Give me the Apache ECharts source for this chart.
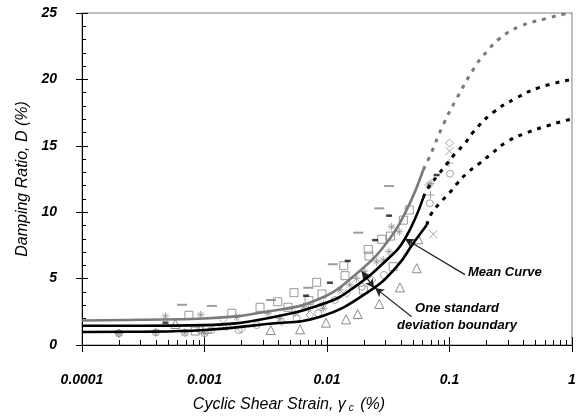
<!DOCTYPE html>
<html>
<head>
<meta charset="utf-8">
<script src="https://cdn.jsdelivr.net/npm/echarts@6/dist/echarts.min.js"></script>
<style>
  html, body { margin: 0; padding: 0; background: #fff; }
  #chart { width: 581px; height: 420px; }
</style>
</head>
<body>
<div id="chart"></div>
<script>
// Cyclic shear strain (%) vs damping ratio (%)

// Mean curve and one-standard-deviation boundaries (solid: fitted range, dotted: extrapolation)
const upperSolidX = [0.0001, 0.0003, 0.001, 0.0032, 0.0088, 0.0186, 0.0307, 0.0448, 0.0611];
const upperSolidD = [1.85, 1.9, 2.0, 2.5, 3.5, 5.6, 7.7, 10.2, 13.2];
const upperDotX = [0.0611, 0.069, 0.089, 0.115, 0.168, 0.202, 0.258, 0.377, 0.625, 0.845, 1];
const upperDotD = [13.2, 14.2, 16.6, 18.6, 21.2, 22.1, 23.1, 24.0, 24.6, 24.9, 25.0];

const meanSolidX = [0.0001, 0.0003, 0.001, 0.0032, 0.01, 0.0164, 0.0307, 0.0433, 0.0611];
const meanSolidD = [1.45, 1.45, 1.5, 2.0, 3.2, 4.3, 6.4, 8.0, 11.1];
const meanDotX = [0.0611, 0.0667, 0.0806, 0.0963, 0.111, 0.134, 0.155, 0.226, 0.352, 0.545, 1];
const meanDotD = [11.1, 11.8, 12.8, 13.7, 14.4, 15.2, 16.0, 17.5, 18.6, 19.4, 20.0];

const lowerSolidX = [0.0001, 0.0003, 0.001, 0.0032, 0.0088, 0.0225, 0.0371, 0.0506, 0.0652];
const lowerSolidD = [0.98, 1.0, 1.13, 1.58, 2.13, 4.1, 5.9, 7.66, 9.04];
const lowerDotX = [0.0652, 0.0712, 0.0836, 0.101, 0.1165, 0.141, 0.177, 0.22, 0.294, 0.431, 0.627, 0.88, 1];
const lowerDotD = [9.04, 9.9, 10.7, 11.5, 12.2, 13.0, 13.7, 14.4, 15.3, 16.0, 16.5, 16.9, 17.0];

// Test results, grouped by symbol: [strain %, damping %]
const squarePts = [[0.000746, 2.24], [0.00084, 1.05], [0.00105, 1.18], [0.00167, 2.39], [0.00284, 2.84],
  [0.00396, 3.26], [0.0048, 2.84], [0.00538, 3.94], [0.00713, 3.34], [0.00824, 4.72], [0.0091, 3.84],
  [0.01403, 5.22], [0.0137, 5.97], [0.0217, 7.2], [0.022, 6.7], [0.028, 7.96], [0.033, 8.2],
  [0.042, 9.4], [0.047, 10.17], [0.0198, 4.14], [0.0347, 5.9]];
const grayDashPts = [[0.000655, 3.03], [0.00115, 2.94], [0.00349, 3.39], [0.00703, 4.31], [0.01114, 6.08],
  [0.018, 8.46], [0.02675, 10.29], [0.0321, 11.97]];
const blackDashPts = [[0.00048, 1.68], [0.00675, 3.71], [0.01057, 4.69], [0.01476, 6.33], [0.0247, 7.9],
  [0.0321, 9.74], [0.0785, 12.8]];
const trianglePts = [[0.000578, 1.58], [0.00347, 1.13], [0.00603, 1.18], [0.00982, 1.68], [0.0143, 1.93],
  [0.0178, 2.33], [0.0267, 3.09], [0.0394, 4.34], [0.054, 5.78], [0.0556, 7.96]];
const asteriskPts = [[0.0002, 0.88], [0.0004, 0.95], [0.00069, 0.93], [0.001, 0.88], [0.00048, 2.18],
  [0.00093, 2.28], [0.00183, 2.08], [0.0033, 2.39], [0.00413, 2.01], [0.00548, 2.39], [0.00641, 2.88],
  [0.00706, 2.76], [0.00933, 2.76], [0.00935, 3.09], [0.01276, 4.14], [0.01537, 4.52], [0.01739, 5.02],
  [0.0203, 5.52], [0.0254, 6.27], [0.0288, 6.4], [0.0321, 7.03], [0.0337, 8.9], [0.0389, 8.53],
  [0.0672, 12.05], [0.0706, 12.17]];
const crossPts = [[0.00142, 1.63], [0.0738, 8.35], [0.1, 14.6]];
const plusPts = [[0.0002, 0.88], [0.0004, 0.95], [0.001, 0.88], [0.07, 11.3], [0.099, 13.7]];
const circlePts = [[0.0002, 0.88], [0.0004, 0.95], [0.00069, 0.93], [0.001, 0.88], [0.00092, 1.13],
  [0.00114, 1.13], [0.0019, 1.13], [0.00267, 1.5], [0.00564, 2.01], [0.00849, 2.39], [0.0116, 3.39],
  [0.0192, 4.39], [0.0292, 5.27], [0.069, 10.67], [0.101, 12.9]];
const diamondPts = [[0.0002, 0.9], [0.00152, 1.38], [0.002, 1.18], [0.00427, 1.75], [0.00726, 2.26],
  [0.00875, 2.88], [0.0145, 3.89], [0.0232, 4.89], [0.1, 15.2]];

// Axis ticks
const xTickLabels = ['0.0001', '0.001', '0.01', '0.1', '1'];
const xMinorTicks = [];
[0.0001, 0.001, 0.01, 0.1].forEach(d => [2, 3, 4, 5, 6, 7, 8, 9].forEach(m => xMinorTicks.push(+(d * m).toPrecision(3))));
const yMin = 0, yMax = 25, yStep = 5;

const zip = (xs, ys) => xs.map((x, i) => [x, ys[i]]);

const FONT = "'Liberation Sans', Arial, sans-serif";
const GRAY = '#7a7a7a';
const MARK = '#808080';
const LIGHT = '#8f8f8f';
const ASTER = 'path://M0,5L10,5M5,0L5,10M1.5,1.5L8.5,8.5M8.5,1.5L1.5,8.5';
const XMARK = 'path://M0,0L10,10M10,0L0,10';
const PLUS = 'path://M5,0L5,10M0,5L10,5';

function curve(data, color, dotted, z) {
  return {
    type: 'line', data: data, showSymbol: false, smooth: 0.45,
    lineStyle: { color: color, width: dotted ? 3 : 2.6, type: dotted ? [4, 6] : 'solid', cap: 'butt' },
    z: z, silent: true
  };
}
function openMarks(data, symbol, size, color, width) {
  return {
    type: 'scatter', data: data, symbol: symbol, symbolSize: size, silent: true, z: 2,
    itemStyle: { color: 'rgba(0,0,0,0)', borderColor: color || MARK, borderWidth: width || 1 }
  };
}
function solidMarks(data, size, color) {
  return { type: 'scatter', data: data, symbol: 'rect', symbolSize: size, silent: true, z: 2,
    itemStyle: { color: color } };
}

const chart = echarts.init(document.getElementById('chart'), null, { renderer: 'canvas' });

const meanSolid = curve(zip(meanSolidX, meanSolidD), '#000', false, 5);
meanSolid.markLine = {
  silent: true, animation: false, symbol: ['none', 'arrow'], symbolSize: [7, 9],
  label: { show: false },
  lineStyle: { color: '#222', width: 1.2, type: 'solid' },
  data: [
    [{ coord: [0.1338, 5.3] }, { coord: [0.0433, 8.0] }],
    [{ coord: [0.0491, 2.13] }, { coord: [0.0247, 4.3] }],
    [{ coord: [0.0243, 4.3], symbol: 'arrow' }, { coord: [0.0192, 5.55] }]
  ]
};

chart.setOption({
  animation: false,
  backgroundColor: '#fff',
  grid: { left: 82, right: 9, top: 13, bottom: 75, show: true, borderColor: '#808080', borderWidth: 1, backgroundColor: '#fff' },
  xAxis: [{
    type: 'log', logBase: 10, min: 0.0001, max: 1, position: 'bottom',
    axisLine: { lineStyle: { color: '#000', width: 1 } },
    axisTick: { show: true, inside: false, length: 7, lineStyle: { color: '#000' } },
    splitLine: { show: false },
    axisLabel: {
      margin: 28, color: '#000', fontSize: 14, fontWeight: 'bold', fontStyle: 'italic', fontFamily: FONT,
      formatter: v => xTickLabels[Math.round(Math.log10(v)) + 4]
    },
    name: 'Cyclic Shear Strain, γ{s|c} (%)', nameLocation: 'middle', nameGap: 52,
    nameTextStyle: {
      color: '#000', fontSize: 16, fontStyle: 'italic', fontFamily: FONT, padding: [0, 76, 0, 0],
      rich: { s: { fontSize: 10, fontStyle: 'italic', fontFamily: FONT, color: '#000', verticalAlign: 'bottom', padding: [0, 2, 0, 3] } }
    }
  }, {
    type: 'log', logBase: 10, min: 0.0001, max: 1, position: 'bottom',
    axisLine: { show: false },
    axisTick: { show: true, inside: true, length: 8, lineStyle: { color: '#000' } },
    axisLabel: { show: false }, splitLine: { show: false }
  }],
  yAxis: [{
    type: 'value', min: yMin, max: yMax, interval: yStep, position: 'left',
    axisLine: { show: true, lineStyle: { color: '#000', width: 1 } },
    axisTick: { show: true, inside: false, length: 6, lineStyle: { color: '#000' } },
    splitLine: { show: false },
    axisLabel: { margin: 25, color: '#000', fontSize: 14, fontWeight: 'bold', fontStyle: 'italic', fontFamily: FONT },
    name: 'Damping Ratio, D (%)', nameLocation: 'middle', nameGap: 45,
    nameTextStyle: { color: '#000', fontSize: 16, fontStyle: 'italic', fontFamily: FONT }
  }, {
    type: 'value', min: yMin, max: yMax, interval: yStep, position: 'left',
    axisLine: { show: false },
    axisTick: { show: true, inside: true, length: 6, lineStyle: { color: '#000' } },
    minorTick: { show: true, splitNumber: 5, length: 4, lineStyle: { color: '#000' } },
    axisLabel: { show: false }, splitLine: { show: false }
  }],
  series: [
    // minor strain ticks at 2..9 of each decade, drawn inward from the x axis
    {
      type: 'custom', silent: true, clip: false, z: 6,
      data: xMinorTicks.map(v => [v, yMin]),
      renderItem: (params, api) => {
        const p = api.coord([api.value(0), yMin]);
        const x = Math.round(p[0]) + 0.5;
        return { type: 'line', shape: { x1: x, y1: p[1], x2: x, y2: p[1] - 5 }, style: { stroke: '#000', lineWidth: 1 } };
      }
    },
    openMarks(squarePts, 'rect', 8, MARK),
    solidMarks(grayDashPts, [10, 2], '#858585'),
    solidMarks(blackDashPts, [6, 2.5], '#111'),
    openMarks(trianglePts, 'triangle', 9, '#6e6e6e'),
    openMarks(asteriskPts, ASTER, 8, LIGHT),
    openMarks(crossPts, XMARK, 8, LIGHT),
    openMarks(plusPts, PLUS, 8, LIGHT),
    openMarks(circlePts, 'circle', 7, LIGHT),
    openMarks(diamondPts, 'diamond', 8, LIGHT),
    curve(zip(upperSolidX, upperSolidD), GRAY, false, 4),
    curve(zip(upperDotX, upperDotD), GRAY, true, 4),
    meanSolid,
    curve(zip(meanDotX, meanDotD), '#000', true, 5),
    curve(zip(lowerSolidX, lowerSolidD), '#000', false, 5),
    curve(zip(lowerDotX, lowerDotD), '#000', true, 5)
  ],
  graphic: [
    { type: 'text', x: 468, y: 272, silent: true,
      style: { text: 'Mean Curve', font: "italic bold 13px 'Liberation Sans', Arial, sans-serif", fill: '#000', verticalAlign: 'middle' } },
    { type: 'text', x: 457, y: 317, silent: true,
      style: { text: 'One standard\ndeviation boundary', font: "italic bold 13px 'Liberation Sans', Arial, sans-serif",
        fill: '#000', align: 'center', verticalAlign: 'middle', lineHeight: 17 } }
  ]
});
</script>
</body>
</html>
